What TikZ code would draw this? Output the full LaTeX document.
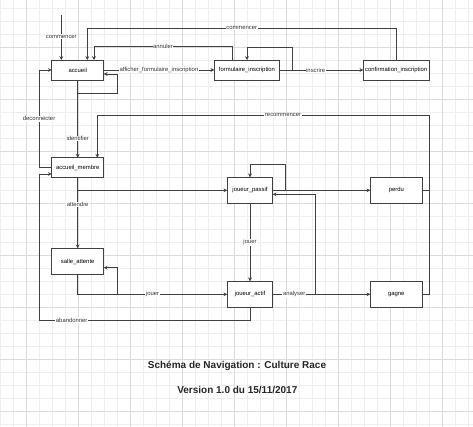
\documentclass[tikz,border=0pt]{standalone}
\usepackage{fontspec}
\setmainfont{Liberation Sans}
\usetikzlibrary{arrows.meta}
\begin{document}
\begin{tikzpicture}[x=1pt,y=-1pt,
  box/.style={draw=black!75,line width=0.8pt,fill=white,outer sep=0pt,inner sep=0pt,font=\fontsize{5.9}{7}\selectfont},
  conn/.style={draw=black!75,line width=0.7pt},
  arr/.style={conn,-{Stealth[length=3.8pt,width=3.8pt]}},
  lbl/.style={fill=white,inner sep=0.6pt,font=\fontsize{5.9}{7}\selectfont,text=black!80},
  title/.style={font=\fontsize{10}{12}\selectfont\bfseries,text=black!85}]
\useasboundingbox (0,0) rectangle (473,427);
\fill[white] (0,0) rectangle (473,427);
% grid
\foreach \k in {0,...,36} \draw[gray!13,line width=0.6pt] ({0.7+13*\k},0) -- ({0.7+13*\k},427);
\foreach \k in {0,...,32} \draw[gray!13,line width=0.6pt] (0,{8.3+13*\k}) -- (473,{8.3+13*\k});
\foreach \k in {0,...,8} \draw[gray!28,line width=0.6pt] ({26.7+52*\k},0) -- ({26.7+52*\k},427);
\foreach \k in {0,...,7} \draw[gray!28,line width=0.6pt] (0,{47.3+52*\k}) -- (473,{47.3+52*\k});
% nodes
\node[box,minimum width=52pt,minimum height=20pt] (accueil) at (77.7,70) {accueil};
\node[box,minimum width=65.4pt,minimum height=20pt] (form) at (247,70) {formulaire\_inscription};
\node[box,minimum width=65.7pt,minimum height=20pt] (confirm) at (396.2,70) {confirmation\_inscription};
\node[box,minimum width=52pt,minimum height=19.6pt] (membre) at (77.7,167.5) {accueil\_membre};
\node[box,minimum width=52pt,minimum height=26.4pt] (salle) at (77.7,261.5) {salle\_attente};
\node[box,minimum width=45.4pt,minimum height=26pt] (passif) at (250,190.3) {joueur\_passif};
\node[box,minimum width=52pt,minimum height=26pt] (perdu) at (396.3,190.3) {perdu};
\node[box,minimum width=45.4pt,minimum height=26pt] (actif) at (250,294.3) {joueur\_actif};
\node[box,minimum width=52pt,minimum height=26pt] (gagne) at (396.3,294.3) {gagne};
\coordinate (start) at (61.3,15);
% connectors
\draw[arr] (start) -- node[lbl,pos=0.48] {commencer} (start |- accueil.north);
\draw[arr] (confirm.north) -- (396.2,28) -- node[lbl,pos=0.5] {commencer} (87.3,28) -- ([xshift=9.6pt]accueil.north);
\draw[arr] ([xshift=-15pt]form.north) -- (232,46.7) -- node[lbl,pos=0.5] {annuler} (94,46.7) -- ([xshift=16.3pt]accueil.north);
\draw[arr] (accueil.east) -- node[lbl] {afficher\_formulaire\_inscription} (form.west);
\draw[arr] (accueil.south) -- (77.7,93.3) -- (117.3,93.3) -- (117.3,74) -- ([yshift=-4pt]accueil.east);
\draw[arr] (accueil.south) -- node[lbl,pos=0.75] {identifier} (membre.north);
\draw[arr] (membre.west) -- (39,167.5) -- node[lbl] {deconnecter} (39,70) -- (accueil.west);
\draw[arr] (form.east) -- node[lbl,pos=0.43] {inscrire} (confirm.west);
\draw[arr] (form.east) -- (292.3,70) -- (292.3,47.7) -- (247,47.7) -- (form.north);
\draw[conn] (perdu.east) -- (429,190.3);
\draw[arr] (gagne.east) -- (429,294.3) -- (429,115) -- node[lbl,pos=0.44] {recommencer} (97.3,115) -- ([xshift=19.6pt]membre.north);
\draw[arr] (membre.south |- passif.west) -- (passif.west);
\draw[arr] (membre.south) -- node[lbl,pos=0.38] {attendre} (salle.north);
\draw[arr] (salle.south) -- (77.7,294.3) -- node[lbl] {jouer} (actif.west);
\draw[arr] (117.3,294.3) -- (117.3,267.7) -- ([yshift=-6.2pt]salle.east);
\draw[arr] (actif.south) -- (250,320) -- node[lbl,pos=0.845] {abandonner} (39,320) -- (39,174) -- ([yshift=-6.5pt]membre.west);
\draw[arr] (passif.east) -- (285.7,190.3) -- (285.7,164.3) -- (250,164.3) -- (passif.north);
\draw[arr] (passif.east) -- (perdu.west);
\draw[arr] (passif.south) -- node[lbl] {jouer} (actif.north);
\draw[arr] (actif.east) -- node[lbl,pos=0.22] {analyser} (gagne.west);
\draw[arr] (315.7,294.3) -- (315.7,194.3) -- ([yshift=-4pt]passif.east);
% title
\node[title] (t1) at (237,366) {Schéma de Navigation : Culture Race};
\node[title] (t2) at (237.3,390) {Version 1.0 du 15/11/2017};
\end{tikzpicture}
\end{document}
